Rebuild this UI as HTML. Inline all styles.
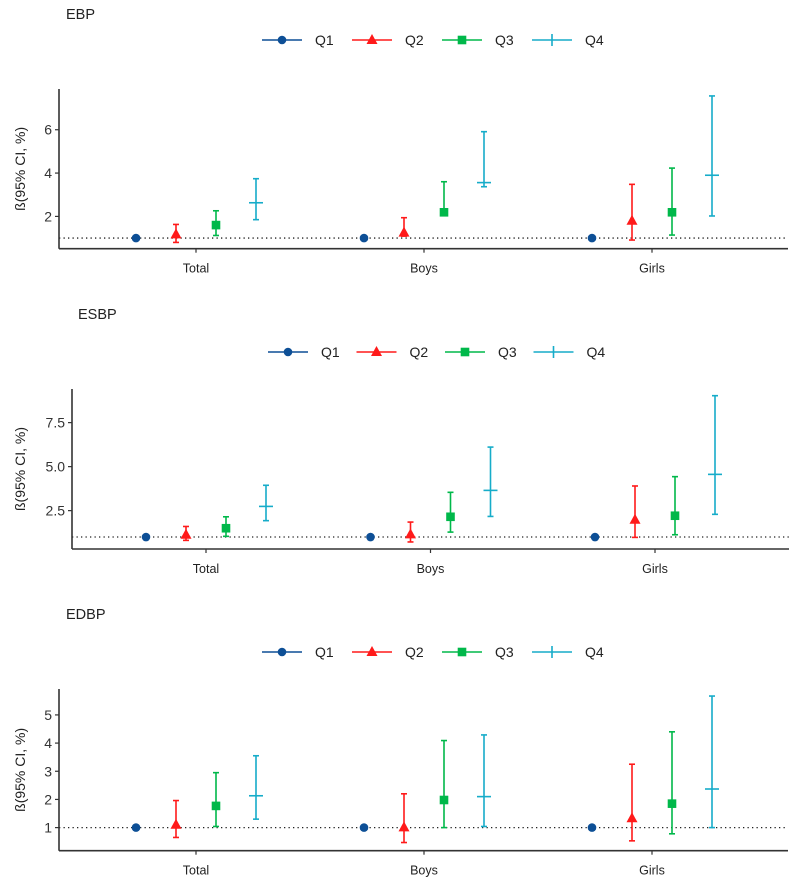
<!DOCTYPE html>
<html><head><meta charset="utf-8"><style>
body{margin:0;background:#fff;font-family:"Liberation Sans",Arial,sans-serif}
svg{display:block}
</style></head><body>
<svg id="chart" width="795" height="892" viewBox="0 0 795 892" xmlns="http://www.w3.org/2000/svg"></svg>
<script>
const categories = ["Total","Boys","Girls"];
const seriesNames = ["Q1","Q2","Q3","Q4"];
// EBP: [category][quartile]
const ebpEst = [[1,1.17,1.6,2.63],[1,1.25,2.19,3.56],[1,1.8,2.19,3.9]];
const ebpLow = [[1,0.8,1.12,1.85],[1,1.09,2.06,3.37],[1,0.91,1.14,2.02]];
const ebpHigh = [[1,1.63,2.26,3.74],[1,1.94,3.6,5.91],[1,3.48,4.23,7.56]];
const ebpTicks = [2,4,6];
// ESBP
const esbpEst = [[1,1.13,1.5,2.74],[1,1.15,2.15,3.65],[1,1.98,2.21,4.56]];
const esbpLow = [[1,0.81,1.04,1.93],[1,0.72,1.28,2.17],[1,0.98,1.13,2.29]];
const esbpHigh = [[1,1.6,2.15,3.94],[1,1.85,3.54,6.11],[1,3.9,4.43,9.03]];
const esbpTicks = [2.5,5.0,7.5];
// EDBP
const edbpEst = [[1,1.1,1.77,2.13],[1,1.01,1.98,2.1],[1,1.33,1.85,2.37]];
const edbpLow = [[1,0.65,1.04,1.3],[1,0.47,1.0,1.04],[1,0.53,0.78,1.0]];
const edbpHigh = [[1,1.96,2.95,3.55],[1,2.2,4.09,4.29],[1,3.25,4.4,5.67]];
const edbpTicks = [1,2,3,4,5];
const refValue = 1;

const colors = ["#0d4f96","#ff1a1a","#00b84a","#16acc9"];
const NS = "http://www.w3.org/2000/svg";
const svg = document.getElementById("chart");
function mk(tag, attrs, parent){const e=document.createElementNS(NS,tag);for(const k in attrs)e.setAttribute(k,attrs[k]);(parent||svg).appendChild(e);return e;}

const panels = [
 {title:"EBP", key:"ebp", est:ebpEst, low:ebpLow, high:ebpHigh, ticks:ebpTicks, dec:0,
  x0:59, x1:788, y0:89, y1:248.7, dMin:0.51, dMax:7.88, cx0:196, cstep:228, titleX:66, titleY:19, legY:40, legX:262, legStep:90},
 {title:"ESBP", key:"esbp", est:esbpEst, low:esbpLow, high:esbpHigh, ticks:esbpTicks, dec:1,
  x0:72, x1:789, y0:389, y1:549, dMin:0.32, dMax:9.41, cx0:206, cstep:224.5, titleX:78, titleY:319, legY:352, legX:268, legStep:88.5},
 {title:"EDBP", key:"edbp", est:edbpEst, low:edbpLow, high:edbpHigh, ticks:edbpTicks, dec:0,
  x0:59, x1:788, y0:689, y1:850.7, dMin:0.18, dMax:5.92, cx0:196, cstep:228, titleX:66, titleY:619, legY:652, legX:262, legStep:90}
];
const offsets = [-60,-20,20,60];

function marker(g, i, x, y, name){
  let e;
  if(i===0) e=mk("circle",{cx:x,cy:y,r:4.3,fill:colors[0]},g);
  else if(i===1) e=mk("polygon",{points:`${x},${y-6} ${x-5.5},${y+4} ${x+5.5},${y+4}`,fill:colors[1]},g);
  else if(i===2) e=mk("rect",{x:x-4.3,y:y-4.3,width:8.6,height:8.6,fill:colors[2]},g);
  else e=mk("line",{x1:x-7,x2:x+7,y1:y,y2:y,stroke:colors[3],"stroke-width":1.6},g);
  
  
  return e;
}

panels.forEach(p=>{
  const g = mk("g",{});
  
  
  const yS = v => p.y1 - (v - p.dMin)/(p.dMax - p.dMin)*(p.y1 - p.y0);
  const xS = (c,q) => p.cx0 + c*p.cstep + offsets[q];

  const t = mk("text",{x:p.titleX,y:p.titleY,"font-size":14.5,fill:"#222"},g); t.textContent=p.title;
  
  

  // legend
  const lg = mk("g",{},g);
  
  
  seriesNames.forEach((s,i)=>{
    const lx = p.legX + i*p.legStep;
    const eg = mk("g",{},lg);
    
    
    mk("line",{x1:lx,x2:lx+40,y1:p.legY,y2:p.legY,stroke:colors[i],"stroke-width":1.6},eg);
    if(i===3) mk("line",{x1:lx+20,x2:lx+20,y1:p.legY-6,y2:p.legY+6,stroke:colors[3],"stroke-width":1.6},eg);
    else marker(eg,i,lx+20,p.legY,'legend-marker-'+s.toLowerCase());
    const tx = mk("text",{x:lx+53,y:p.legY+5,"font-size":14,fill:"#222"},eg); tx.textContent=s;
  });

  // reference line
  const rl = mk("line",{x1:p.x0,x2:p.x1,y1:yS(refValue),y2:yS(refValue),stroke:"#222","stroke-width":1.3,"stroke-dasharray":"1.3 3.2"},g);
  
  

  // axes
  const ya = mk("line",{x1:p.x0,x2:p.x0,y1:p.y0,y2:p.y1,stroke:"#333","stroke-width":1.6},g);
  
  
  const xa = mk("line",{x1:p.x0,x2:p.x1,y1:p.y1,y2:p.y1,stroke:"#333","stroke-width":1.6},g);
  
  
  p.ticks.forEach(v=>{
    const y=yS(v);
    mk("line",{x1:p.x0-4,x2:p.x0,y1:y,y2:y,stroke:"#333","stroke-width":1.2},g);
    const tl=mk("text",{x:p.x0-7,y:y+5,"font-size":14,fill:"#333","text-anchor":"end"},g);
    tl.textContent = v.toFixed(p.dec);
    
    
  });
  categories.forEach((c,ci)=>{
    const x = p.cx0 + ci*p.cstep;
    mk("line",{x1:x,x2:x,y1:p.y1,y2:p.y1+4,stroke:"#333","stroke-width":1.2},g);
    const tl=mk("text",{x:x,y:p.y1+24,"font-size":12.5,fill:"#222","text-anchor":"middle"},g);
    tl.textContent=c;
    
    
  });
  const yl = mk("text",{x:0,y:0,"font-size":14,fill:"#222","text-anchor":"middle",transform:`translate(25,${(p.y0+p.y1)/2}) rotate(-90)`},g);
  yl.textContent="ß(95% CI, %)";
  
  

  // marks
  categories.forEach((c,ci)=>{
    seriesNames.forEach((s,qi)=>{
      const x = xS(ci,qi);
      const mg = mk("g",{},g);
      
      
      if(qi>0){
        const lo=yS(p.low[ci][qi]), hi=yS(p.high[ci][qi]);
        mk("line",{x1:x,x2:x,y1:lo,y2:hi,stroke:colors[qi],"stroke-width":1.6},mg);
        mk("line",{x1:x-3,x2:x+3,y1:lo,y2:lo,stroke:colors[qi],"stroke-width":1.6},mg);
        mk("line",{x1:x-3,x2:x+3,y1:hi,y2:hi,stroke:colors[qi],"stroke-width":1.6},mg);
      }
      marker(mg,qi,x,yS(p.est[ci][qi]),'point-'+s.toLowerCase());
    });
  });
});
</script>
</body></html>
